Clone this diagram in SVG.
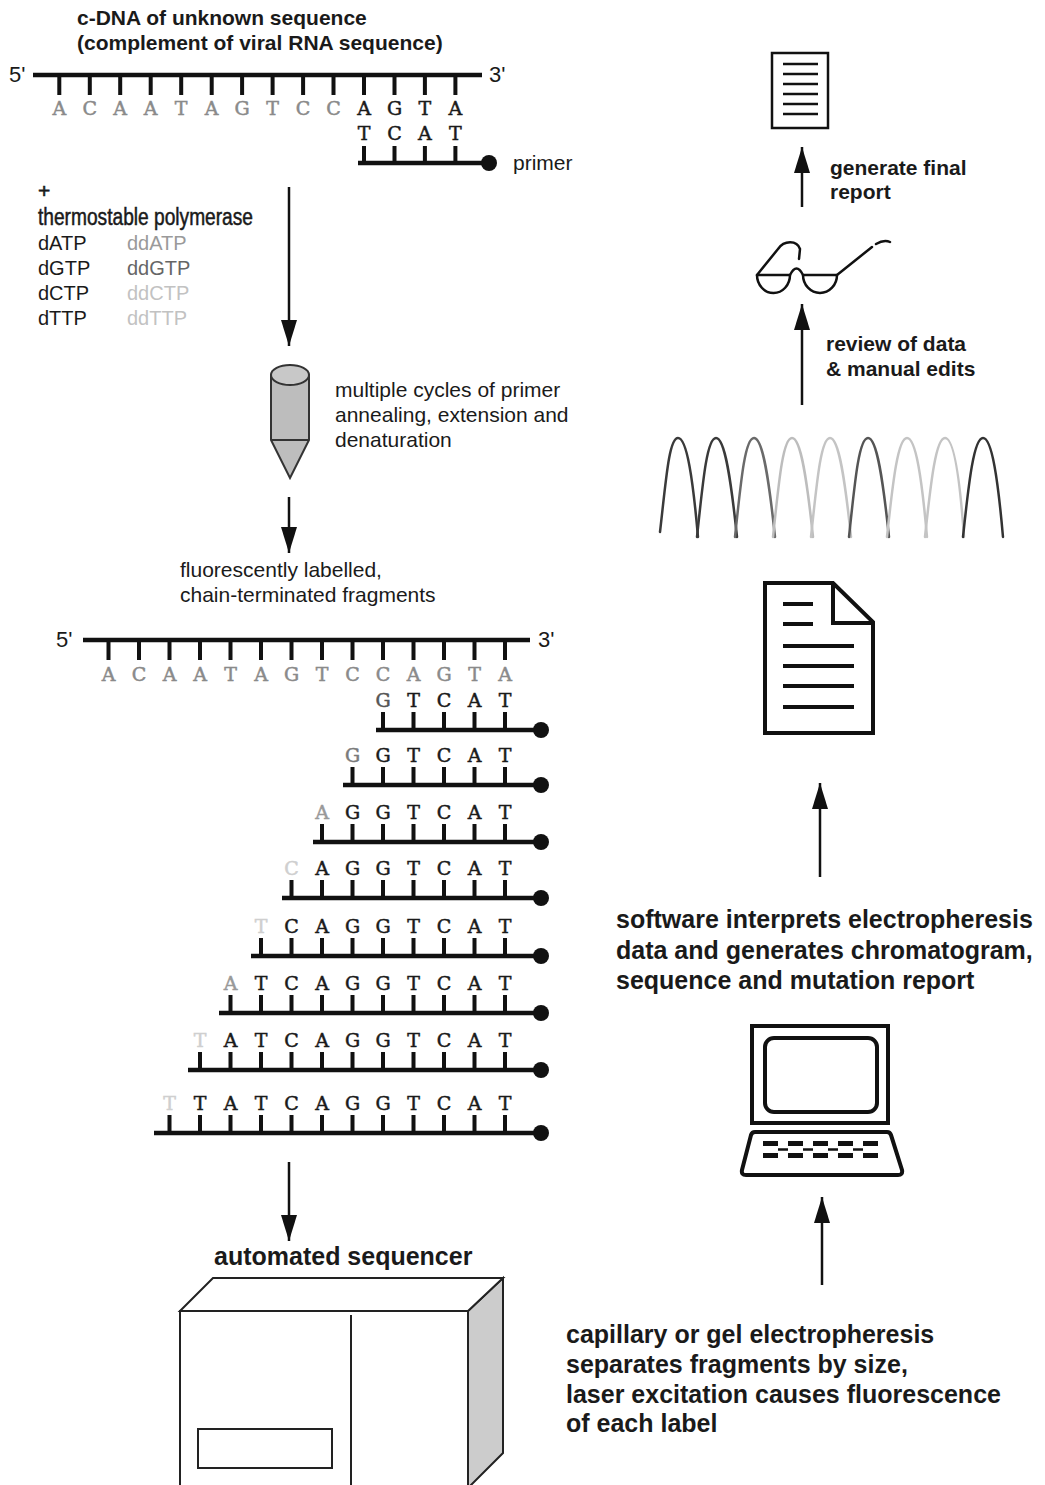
<svg xmlns="http://www.w3.org/2000/svg" width="1045" height="1485" viewBox="0 0 1045 1485">
  <style>
    .t { font-family: "Liberation Sans", Arial, sans-serif; fill: #1a1a1a; }
    .bold { font-weight: bold; }
    .base { font-family: "DejaVu Serif", "Liberation Serif", serif; font-size: 19px; text-anchor: middle; stroke-width: 0.5px; }
    .k { fill: #1a1a1a; stroke: #1a1a1a; }
    .gr { fill: #8a8a8a; stroke: #8a8a8a; }
    .g1 { fill: #555; stroke: #555; }
    .g2 { fill: #7a7a7a; stroke: #7a7a7a; }
    .g3 { fill: #999; stroke: #999; }
    .g4 { fill: #cfcfcf; stroke: #cfcfcf; }
    .bb { stroke: #111; stroke-width: 4.5; fill: none; }
    .tk { stroke: #111; stroke-width: 4; fill: none; }
    .arrow { stroke: #111; stroke-width: 2.5; fill: none; marker-end: url(#ah); }
    .ico { stroke: #111; fill: none; }
  </style>
  <defs>
    <marker id="ah" viewBox="0 0 26 16" refX="26" refY="8" markerWidth="26" markerHeight="16" markerUnits="userSpaceOnUse" orient="auto">
      <path d="M0,0 L26,8 L0,16 Z" fill="#111"/>
    </marker>
  </defs>
  <rect width="1045" height="1485" fill="#fff"/>

  <!-- template cDNA with annealed primer -->
  <g id="template-top">
    <text class="t bold" x="77" y="25" font-size="21">c-DNA of unknown sequence</text>
    <text class="t bold" x="77" y="50" font-size="21">(complement of viral RNA sequence)</text>
    <text class="t" x="9" y="82" font-size="22">5'</text>
    <text class="t" x="489" y="82" font-size="22">3'</text>
    <path class="bb" d="M33,75 H482"/>
    <path class="tk" d="M59.3,75V95M89.8,75V95M120.2,75V95M150.7,75V95M181.2,75V95M211.7,75V95M242.1,75V95M272.6,75V95M303.1,75V95M333.5,75V95M364,75V95M394.5,75V95M424.9,75V95M455.4,75V95"/>
    <text class="base" y="115"><tspan class="gr" x="59.3 89.8 120.2 150.7 181.2 211.7 242.1 272.6 303.1 333.5">ACAATAGTCC</tspan><tspan class="k" x="364 394.5 424.9 455.4">AGTA</tspan></text>
  </g>
  <g id="primer">
    <text class="base k" x="364 394.5 424.9 455.4" y="140">TCAT</text>
    <path class="tk" d="M364,146V163M394.5,146V163M424.9,146V163M455.4,146V163"/>
    <path class="bb" d="M358,163 H489"/>
    <circle cx="489" cy="163" r="8" fill="#111"/>
    <text class="t" x="513" y="170" font-size="21">primer</text>
  </g>

  <!-- reaction mix -->
  <g id="reagents">
    <text class="t" x="38" y="198" font-size="21" stroke="#1a1a1a" stroke-width="0.6">+</text>
    <text class="t" x="38" y="225" font-size="23" textLength="215" lengthAdjust="spacingAndGlyphs" stroke="#1a1a1a" stroke-width="0.5">thermostable polymerase</text>
    <text class="t" x="38" y="250" font-size="20">dATP</text>
    <text class="t" x="38" y="275" font-size="20">dGTP</text>
    <text class="t" x="38" y="300" font-size="20">dCTP</text>
    <text class="t" x="38" y="325" font-size="20">dTTP</text>
    <text class="t" x="127" y="250" font-size="20" style="fill:#9a9a9a">ddATP</text>
    <text class="t" x="127" y="275" font-size="20" style="fill:#666">ddGTP</text>
    <text class="t" x="127" y="300" font-size="20" style="fill:#c2c2c2">ddCTP</text>
    <text class="t" x="127" y="325" font-size="20" style="fill:#c2c2c2">ddTTP</text>
  </g>

  <!-- thermal cycler tube -->
  <g id="tube">
    <path d="M271,375 V440 L290,478 L309,440 V375 Z" fill="#bdbdbd" stroke="#333" stroke-width="2"/>
    <path d="M271,440 H309" stroke="#333" stroke-width="2"/>
    <ellipse cx="290" cy="375" rx="19" ry="10" fill="#c8c8c8" stroke="#333" stroke-width="2"/>
    <text class="t" x="335" y="397" font-size="21">multiple cycles of primer</text>
    <text class="t" x="335" y="422" font-size="21">annealing, extension and</text>
    <text class="t" x="335" y="447" font-size="21">denaturation</text>
  </g>

  <g id="fragments-label">
    <text class="t" x="180" y="577" font-size="21">fluorescently labelled,</text>
    <text class="t" x="180" y="602" font-size="21">chain-terminated fragments</text>
  </g>

  <!-- template with terminated fragments -->
  <g id="template-fragments">
    <text class="t" x="56" y="647" font-size="22">5'</text>
    <text class="t" x="538" y="647" font-size="22">3'</text>
    <path class="bb" d="M83,640 H530"/>
    <path class="tk" d="M108.5,640V660M139,640V660M169.5,640V660M200,640V660M230.5,640V660M261,640V660M291.5,640V660M322,640V660M352.5,640V660M383,640V660M413.5,640V660M444,640V660M474.5,640V660M505,640V660"/>
    <text class="base gr" x="108.5 139 169.5 200 230.5 261 291.5 322 352.5 383 413.5 444 474.5 505" y="681">ACAATAGTCCAGTA</text>
  </g>

  <g id="fragment-1">
    <text class="base" y="707"><tspan class="g1" x="383">G</tspan><tspan class="k" x="413.5 444 474.5 505">TCAT</tspan></text>
    <path class="tk" d="M383,712V730M413.5,712V730M444,712V730M474.5,712V730M505,712V730"/>
    <path class="bb" d="M376,730 H541"/>
    <circle cx="541" cy="730" r="8" fill="#111"/>
  </g>
  <g id="fragment-2">
    <text class="base" y="762"><tspan class="g2" x="352.5">G</tspan><tspan class="k" x="383 413.5 444 474.5 505">GTCAT</tspan></text>
    <path class="tk" d="M352.5,767V785M383,767V785M413.5,767V785M444,767V785M474.5,767V785M505,767V785"/>
    <path class="bb" d="M343,785 H541"/>
    <circle cx="541" cy="785" r="8" fill="#111"/>
  </g>
  <g id="fragment-3">
    <text class="base" y="819"><tspan class="g3" x="322">A</tspan><tspan class="k" x="352.5 383 413.5 444 474.5 505">GGTCAT</tspan></text>
    <path class="tk" d="M322,824V842M352.5,824V842M383,824V842M413.5,824V842M444,824V842M474.5,824V842M505,824V842"/>
    <path class="bb" d="M313,842 H541"/>
    <circle cx="541" cy="842" r="8" fill="#111"/>
  </g>
  <g id="fragment-4">
    <text class="base" y="875"><tspan class="g4" x="291.5">C</tspan><tspan class="k" x="322 352.5 383 413.5 444 474.5 505">AGGTCAT</tspan></text>
    <path class="tk" d="M291.5,880V898M322,880V898M352.5,880V898M383,880V898M413.5,880V898M444,880V898M474.5,880V898M505,880V898"/>
    <path class="bb" d="M282,898 H541"/>
    <circle cx="541" cy="898" r="8" fill="#111"/>
  </g>
  <g id="fragment-5">
    <text class="base" y="933"><tspan class="g4" x="261">T</tspan><tspan class="k" x="291.5 322 352.5 383 413.5 444 474.5 505">CAGGTCAT</tspan></text>
    <path class="tk" d="M261,938V956M291.5,938V956M322,938V956M352.5,938V956M383,938V956M413.5,938V956M444,938V956M474.5,938V956M505,938V956"/>
    <path class="bb" d="M251,956 H541"/>
    <circle cx="541" cy="956" r="8" fill="#111"/>
  </g>
  <g id="fragment-6">
    <text class="base" y="990"><tspan class="g3" x="230.5">A</tspan><tspan class="k" x="261 291.5 322 352.5 383 413.5 444 474.5 505">TCAGGTCAT</tspan></text>
    <path class="tk" d="M230.5,995V1013M261,995V1013M291.5,995V1013M322,995V1013M352.5,995V1013M383,995V1013M413.5,995V1013M444,995V1013M474.5,995V1013M505,995V1013"/>
    <path class="bb" d="M219,1013 H541"/>
    <circle cx="541" cy="1013" r="8" fill="#111"/>
  </g>
  <g id="fragment-7">
    <text class="base" y="1047"><tspan class="g4" x="200">T</tspan><tspan class="k" x="230.5 261 291.5 322 352.5 383 413.5 444 474.5 505">ATCAGGTCAT</tspan></text>
    <path class="tk" d="M200,1052V1070M230.5,1052V1070M261,1052V1070M291.5,1052V1070M322,1052V1070M352.5,1052V1070M383,1052V1070M413.5,1052V1070M444,1052V1070M474.5,1052V1070M505,1052V1070"/>
    <path class="bb" d="M188,1070 H541"/>
    <circle cx="541" cy="1070" r="8" fill="#111"/>
  </g>
  <g id="fragment-8">
    <text class="base" y="1110"><tspan class="g4" x="169.5">T</tspan><tspan class="k" x="200 230.5 261 291.5 322 352.5 383 413.5 444 474.5 505">TATCAGGTCAT</tspan></text>
    <path class="tk" d="M169.5,1115V1133M200,1115V1133M230.5,1115V1133M261,1115V1133M291.5,1115V1133M322,1115V1133M352.5,1115V1133M383,1115V1133M413.5,1115V1133M444,1115V1133M474.5,1115V1133M505,1115V1133"/>
    <path class="bb" d="M154,1133 H541"/>
    <circle cx="541" cy="1133" r="8" fill="#111"/>
  </g>

  <!-- automated sequencer -->
  <g id="sequencer">
    <text class="t bold" x="214" y="1265" font-size="25">automated sequencer</text>
    <path d="M468,1311 L503,1278 V1453 L468,1488 Z" fill="#cccccc" stroke="#222" stroke-width="2"/>
    <path d="M180,1311 L213,1278 H503 L468,1311 Z" fill="#fff" stroke="#222" stroke-width="2"/>
    <path d="M180,1490 V1311 H468 V1490" fill="#fff" stroke="#222" stroke-width="2"/>
    <path d="M351,1315 V1490" stroke="#222" stroke-width="2"/>
    <rect x="198" y="1429" width="134" height="39" fill="none" stroke="#222" stroke-width="2"/>
  </g>
  <g id="electrophoresis-label">
    <text class="t bold" x="566" y="1343" font-size="25">capillary or gel electropheresis</text>
    <text class="t bold" x="566" y="1373" font-size="25">separates fragments by size,</text>
    <text class="t bold" x="566" y="1403" font-size="25">laser excitation causes fluorescence</text>
    <text class="t bold" x="566" y="1432" font-size="25">of each label</text>
  </g>

  <!-- computer -->
  <g id="computer">
    <rect class="ico" x="752" y="1026" width="136" height="97" stroke-width="4"/>
    <rect class="ico" x="765" y="1038" width="112" height="74" rx="9" stroke-width="4"/>
    <path class="ico" d="M755,1132 H887 Q890,1132 891,1135 L902,1170 Q903,1175 898,1175 H746 Q741,1175 742,1170 L751,1135 Q752,1132 755,1132 Z" stroke-width="4"/>
    <g fill="#111">
      <rect x="763" y="1141" width="15" height="5"/><rect x="763" y="1153" width="15" height="5"/>
      <rect x="788" y="1141" width="15" height="5"/><rect x="788" y="1153" width="15" height="5"/>
      <rect x="813" y="1141" width="15" height="5"/><rect x="813" y="1153" width="15" height="5"/>
      <rect x="838" y="1141" width="15" height="5"/><rect x="838" y="1153" width="15" height="5"/>
      <rect x="863" y="1141" width="15" height="5"/><rect x="863" y="1153" width="15" height="5"/>
    </g>
    <path d="M778,1149.5 H788 M803,1149.5 H813 M828,1149.5 H838 M853,1149.5 H863" stroke="#111" stroke-width="2.5"/>
  </g>
  <g id="software-label">
    <text class="t bold" x="616" y="928" font-size="25">software interprets electropheresis</text>
    <text class="t bold" x="616" y="959" font-size="25">data and generates chromatogram,</text>
    <text class="t bold" x="616" y="989" font-size="25">sequence and mutation report</text>
  </g>

  <!-- output document -->
  <g id="document">
    <path class="ico" d="M765,583 H833 L873,622 V733 H765 Z" stroke-width="4" stroke-linejoin="miter"/>
    <path class="ico" d="M833,583 V623 H873" stroke-width="4"/>
    <path class="ico" d="M783,604 H813 M783,624 H813 M783,646 H854 M783,666 H854 M783,686 H854 M783,707 H854" stroke-width="4"/>
  </g>

  <!-- chromatogram trace -->
  <g id="chromatogram" fill="none" stroke-width="2.5" stroke-linecap="round">
    <path d="M660,532 C666,480 669,438 678,438 S693,480 698,537" stroke="#3a3a3a"/>
    <path d="M697,537 C703,480 707,438 716,438 S731,480 737,537" stroke="#3a3a3a"/>
    <path d="M735,537 C741,480 745,438 754,438 S769,480 775,537" stroke="#6a6a6a"/>
    <path d="M773,537 C779,480 783,438 792,438 S807,480 813,537" stroke="#bdbdbd"/>
    <path d="M811,537 C817,480 821,438 830,438 S845,480 851,537" stroke="#c4c4c4"/>
    <path d="M849,537 C855,480 859,438 868,438 S883,480 889,537" stroke="#555"/>
    <path d="M887,537 C893,480 898,438 907,438 S922,480 927,537" stroke="#c4c4c4"/>
    <path d="M925,537 C931,480 936,438 945,438 S960,480 964,537" stroke="#c4c4c4"/>
    <path d="M963,537 C969,480 974,438 983,438 S998,480 1003,537" stroke="#333"/>
  </g>

  <g id="review-label">
    <text class="t bold" x="826" y="351" font-size="21">review of data</text>
    <text class="t bold" x="826" y="376" font-size="21">&amp; manual edits</text>
  </g>

  <!-- reading glasses -->
  <g id="glasses" class="ico" stroke-width="2.5" stroke-linecap="round" stroke-linejoin="round">
    <path d="M757,275 A16.5,18 0 0 0 790,275 Z"/>
    <path d="M803,275 A17,18 0 0 0 837,275 Z"/>
    <path d="M790,275 Q796.5,262 803,275"/>
    <path d="M757,275 L778,249 C784,240 797,240 800,249 L799,259"/>
    <path d="M837,275 L872,247 M876,244 C881,241 886,240 890,242"/>
  </g>
  <g id="report-label">
    <text class="t bold" x="830" y="175" font-size="21">generate final</text>
    <text class="t bold" x="830" y="199" font-size="21">report</text>
  </g>

  <!-- final report -->
  <g id="final-report">
    <rect class="ico" x="772" y="53" width="56" height="75" stroke-width="2.5"/>
    <path class="ico" d="M783,64 H818 M783,74 H818 M783,84 H818 M783,94 H818 M783,104 H818 M783,114 H818" stroke-width="2.5"/>
  </g>

  <!-- process arrows -->
  <g id="connectors">
    <path class="arrow" d="M289,187 V346"/>
    <path class="arrow" d="M289,497 V553"/>
    <path class="arrow" d="M289,1162 V1241"/>
    <path class="arrow" d="M822,1285 V1197"/>
    <path class="arrow" d="M820,877 V783"/>
    <path class="arrow" d="M802,405 V304"/>
    <path class="arrow" d="M802,207 V147"/>
  </g>
</svg>
